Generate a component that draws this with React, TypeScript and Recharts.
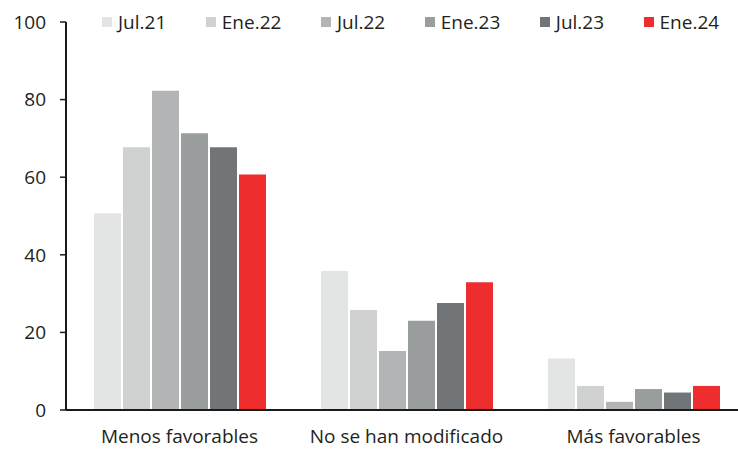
import { BarChart, Bar, XAxis, YAxis } from "recharts";

const CATEGORIES = ["Menos favorables", "No se han modificado", "Más favorables"];

const JUL21 = [50.7, 35.8, 13.3];
const ENE22 = [67.7, 25.8, 6.2];
const JUL22 = [82.3, 15.2, 2.1];
const ENE23 = [71.3, 23.0, 5.4];
const JUL23 = [67.7, 27.6, 4.5];
const ENE24 = [60.7, 32.9, 6.2];

const Y_TICKS = [0, 20, 40, 60, 80, 100];

const SERIES = [
  { key: "jul21", label: "Jul.21", values: JUL21, color: "#e3e4e4" },
  { key: "ene22", label: "Ene.22", values: ENE22, color: "#d0d1d1" },
  { key: "jul22", label: "Jul.22", values: JUL22, color: "#b2b4b5" },
  { key: "ene23", label: "Ene.23", values: ENE23, color: "#9a9d9e" },
  { key: "jul23", label: "Jul.23", values: JUL23, color: "#727578" },
  { key: "ene24", label: "Ene.24", values: ENE24, color: "#ee2e2e" },
];

const data = CATEGORIES.map((name, i) => {
  const row: Record<string, string | number> = { name };
  SERIES.forEach((s) => {
    row[s.key] = s.values[i];
  });
  return row;
});

const FONT = "'Open Sans', sans-serif";
const TEXT = "#231f20";
const AXIS = "#1a1a1a";

export default function App() {
  return (
    <div
      style={{
        position: "fixed",
        left: 0,
        top: 0,
        width: 738,
        height: 450,
        overflow: "hidden",
        background: "#fff",
        fontFamily: FONT,
      }}
    >
      {/* legend */}
      <div
        style={{
          position: "absolute",
          left: 102,
          top: 9,
          display: "flex",
          gap: 39.5,
          fontSize: 19,
          color: TEXT,
          lineHeight: "26px",
          whiteSpace: "nowrap",
        }}
      >
        {SERIES.map((s) => (
          <div key={s.key} style={{ display: "flex", alignItems: "center" }}>
            <span
              style={{
                display: "inline-block",
                width: 10,
                height: 10,
                background: s.color,
                marginRight: 6,
              }}
            />
            <span>{s.label}</span>
          </div>
        ))}
      </div>

      <BarChart
        width={747}
        height={450}
        data={data}
        margin={{ top: 22, right: 0, bottom: 0, left: 0 }}
        barCategoryGap={28}
        barGap={2}
      >
        <XAxis
          dataKey="name"
          height={40}
          tickLine={false}
          tickSize={0}
          tickMargin={20}
          axisLine={{ stroke: AXIS, strokeWidth: 2 }}
          tick={{ fill: TEXT, fontSize: 19, fontFamily: FONT }}
          interval={0}
        />
        <YAxis
          width={66}
          domain={[0, 100]}
          ticks={Y_TICKS}
          interval={0}
          tickSize={6}
          tickMargin={14}
          axisLine={{ stroke: AXIS, strokeWidth: 2 }}
          tickLine={{ stroke: AXIS, strokeWidth: 1.5 }}
          tick={{ fill: TEXT, fontSize: 19, fontFamily: FONT }}
        />
        {SERIES.map((s) => (
          <Bar
            key={s.key}
            dataKey={s.key}
            name={s.label}
            fill={s.color}
            isAnimationActive={false}
          />
        ))}
      </BarChart>
    </div>
  );
}
